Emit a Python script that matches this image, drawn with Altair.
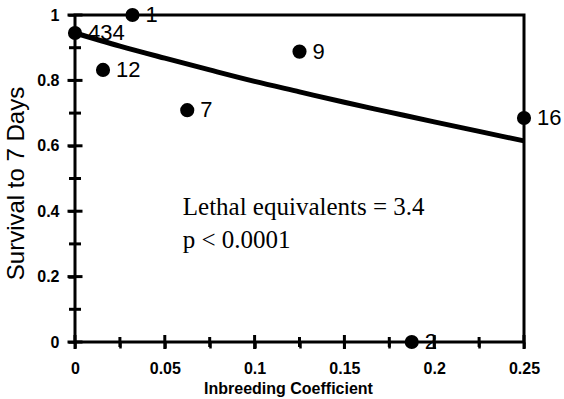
import altair as alt
import pandas as pd

# Observed points: inbreeding coefficient, survival, sample size label
inbreeding = [0.0, 0.032, 0.0156, 0.0625, 0.125, 0.25, 0.1875]
survival = [0.945, 1.0, 0.832, 0.709, 0.888, 0.685, 0.0]
labels = ["434", "1", "12", "7", "9", "16", "2"]

# Fitted curve
curve_f = [0.0, 0.025, 0.05, 0.075, 0.1, 0.125, 0.15, 0.175, 0.2, 0.225, 0.25]
curve_s = [0.945, 0.905, 0.868, 0.832, 0.797, 0.765, 0.733, 0.703, 0.673, 0.644, 0.615]

# Annotation
notes = ["Lethal equivalents = 3.4", "p < 0.0001"]
note_x = [0.06, 0.06]
note_y = [0.413, 0.312]

# Tick values
x_major = [0, 0.05, 0.1, 0.15, 0.2, 0.25]
x_minor = [0.025, 0.075, 0.125, 0.175, 0.225]
y_major = [0, 0.2, 0.4, 0.6, 0.8, 1.0]
y_minor = [0.1, 0.3, 0.5, 0.7, 0.9]

pts = pd.DataFrame({"f": inbreeding, "s": survival, "n": labels})
curve = pd.DataFrame({"f": curve_f, "s": curve_s})
ann = pd.DataFrame({"f": note_x, "s": note_y, "t": notes})
xmaj = pd.DataFrame({"f": x_major, "s": [0] * len(x_major)})
xmin = pd.DataFrame({"f": x_minor, "s": [0] * len(x_minor)})
ymaj = pd.DataFrame({"f": [0.0] * len(y_major), "s": y_major})
ymin = pd.DataFrame({"f": [0.0] * len(y_minor), "s": y_minor})

xs = alt.Scale(domain=[0, 0.25], nice=False, zero=False)
ys = alt.Scale(domain=[0, 1], nice=False, zero=False)
FONT = "Liberation Sans"

x_axis = alt.Axis(
    values=sorted(x_major + x_minor), format="~g", orient="bottom", grid=False,
    domain=False, ticks=True, tickSize=6, tickWidth=2.5, tickColor="black",
    labelExpr="round(datum.value * 40) % 2 == 0 ? datum.label : ''",
    labelFont=FONT, labelFontSize=16, labelFontWeight="bold", labelColor="black",
    labelPadding=12, labelFlush=False,
    title="Inbreeding Coefficient", titleFont=FONT, titleFontSize=16,
    titleFontWeight="bold", titleColor="black",
    titleX=213, titleY=51, titleAlign="center", titleBaseline="alphabetic",
)
y_axis = alt.Axis(
    values=sorted(y_major + y_minor), format="~g", orient="left", grid=False,
    domain=False, ticks=True, tickSize=7, tickWidth=2.5, tickColor="black",
    labelExpr="round(datum.value * 10) % 2 == 0 ? datum.label : ''",
    labelFont=FONT, labelFontSize=16, labelFontWeight="bold", labelColor="black",
    labelPadding=9, labelFlush=False,
    title="Survival to 7 Days", titleFont=FONT, titleFontSize=24,
    titleFontWeight="normal", titleColor="black",
    titleX=-52, titleY=168, titleAngle=270, titleAlign="center",
    titleBaseline="alphabetic",
)

X = alt.X("f:Q", scale=xs)
Y = alt.Y("s:Q", scale=ys)

VSHAPE = "M0,-1L0,1"
HSHAPE = "M-1,0L1,0"


def tick_layer(df, shape, length):
    return alt.Chart(df).mark_point(
        shape=shape, size=length * length, filled=False, stroke="black",
        strokeWidth=3, opacity=1,
    ).encode(x=X, y=Y)


points = alt.Chart(pts).mark_circle(size=200, color="black", opacity=1).encode(
    x=alt.X("f:Q", scale=xs, axis=x_axis),
    y=alt.Y("s:Q", scale=ys, axis=y_axis),
)

line = alt.Chart(curve).mark_line(color="black", strokeWidth=5, interpolate="monotone").encode(x=X, y=Y)

xt_major = tick_layer(xmaj, VSHAPE, 14)
xt_minor = tick_layer(xmin, VSHAPE, 10)
yt_major = tick_layer(ymaj, HSHAPE, 15)
yt_minor = tick_layer(ymin, HSHAPE, 12)

point_labels = alt.Chart(pts).mark_text(
    align="left", baseline="middle", dx=13, font=FONT, fontSize=22, color="black"
).encode(x=X, y=Y, text="n:N")

annotation = alt.Chart(ann).mark_text(
    align="left", baseline="middle", font="Liberation Serif", fontSize=25, color="black"
).encode(x=X, y=Y, text="t:N")

chart = alt.layer(
    points, xt_major, xt_minor, line, point_labels, annotation, yt_major, yt_minor
).properties(
    width=449, height=327,
    autosize=alt.AutoSizeParams(type="none"),
    padding={"left": 75, "top": 15, "right": 40, "bottom": 57},
    background="white",
).configure_view(stroke="black", strokeWidth=3)

chart.save("out.html", embed_options={"renderer": "svg", "actions": False})
